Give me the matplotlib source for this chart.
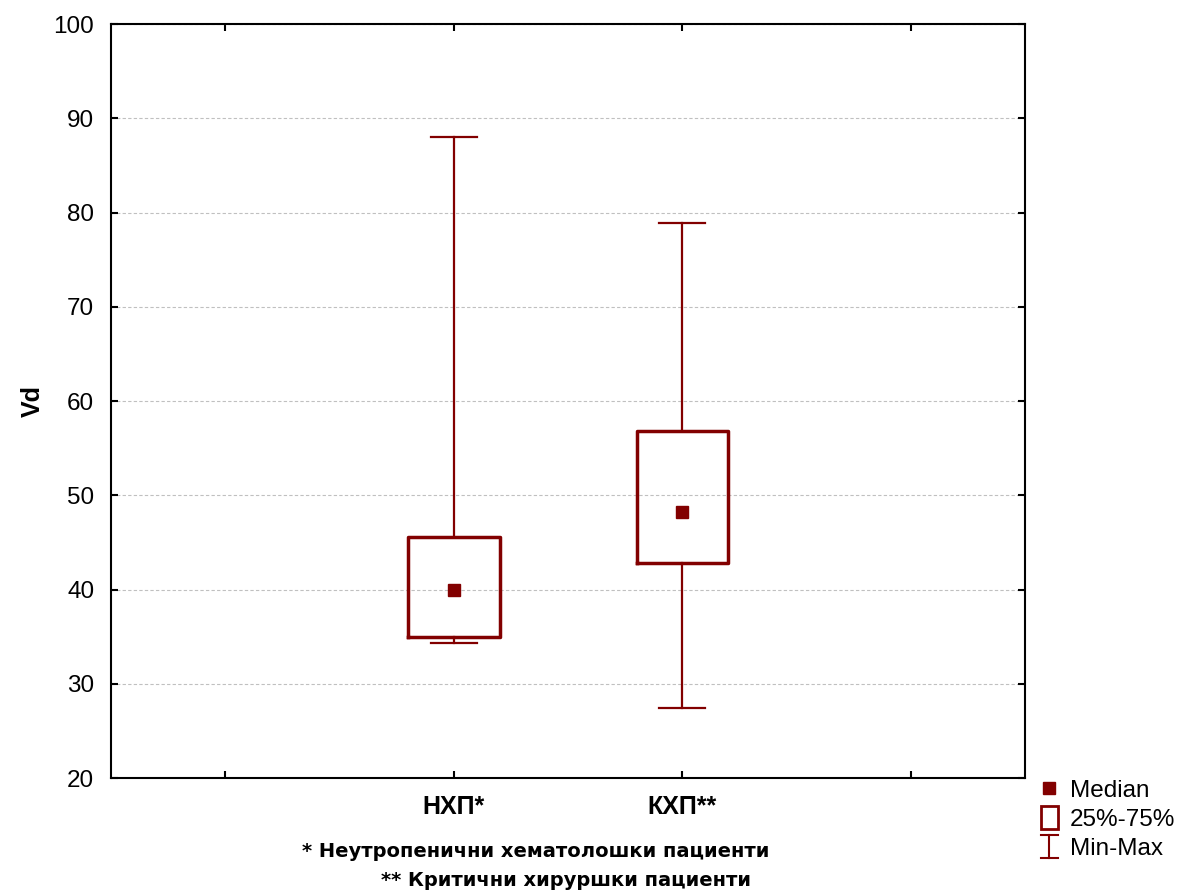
import matplotlib
matplotlib.use("Agg")
import matplotlib.pyplot as plt
from matplotlib.legend_handler import HandlerBase
from matplotlib.lines import Line2D
from matplotlib.patches import Rectangle

plt.rcParams["font.family"] = ["Liberation Sans", "DejaVu Sans"]

groups = ["НХП*", "КХП**"]
positions = [1, 2]
medians = [40.0, 48.2]
q1 = [35.0, 42.8]
q3 = [45.6, 56.8]
mins = [34.3, 27.4]
maxs = [88.0, 78.9]
color = "#820000"

fig = plt.figure(figsize=(11.81, 8.90), dpi=100)
ax = fig.add_axes([0.094, 0.1258, 0.774, 0.847])

stats = []
for i in range(len(groups)):
    stats.append({"med": medians[i], "q1": q1[i], "q3": q3[i],
                  "whislo": mins[i], "whishi": maxs[i], "fliers": []})

ax.bxp(stats, positions=positions, widths=0.4, capwidths=0.2, showfliers=False,
       boxprops=dict(color=color, linewidth=2.5),
       whiskerprops=dict(color=color, linewidth=1.6),
       capprops=dict(color=color, linewidth=1.6),
       medianprops=dict(linewidth=0))
ax.plot(positions, medians, "s", color=color, markersize=8, linestyle="none", zorder=5)

ax.set_xlim(-0.5, 3.5)
ax.set_ylim(20, 100)
ax.set_xticks([0, 1, 2, 3])
ax.set_xticklabels(["", groups[0], groups[1], ""], fontsize=18, fontweight="bold")
ax.set_yticks(range(20, 101, 10))
ax.tick_params(axis="y", labelsize=17.5)
ax.tick_params(direction="in", top=True, right=True, length=5, width=1.5, pad=12)
ax.yaxis.grid(True, linestyle=(0, (3, 2)), color="#c0c0c0", linewidth=0.8)
ax.set_axisbelow(True)
for s in ax.spines.values():
    s.set_linewidth(1.5)
ax.set_ylabel("Vd", fontsize=18, fontweight="bold", labelpad=6)


class WhiskerHandler(HandlerBase):
    def create_artists(self, legend, orig_handle, xdescent, ydescent, width, height, fontsize, trans):
        cx = width / 2 - xdescent
        lo, hi = -ydescent - 2, height - ydescent + 2
        arts = [Line2D([cx, cx], [lo, hi]),
                Line2D([cx - 6, cx + 6], [lo, lo]),
                Line2D([cx - 6, cx + 6], [hi, hi])]
        for a in arts:
            a.set_color(color)
            a.set_linewidth(1.5)
            a.set_transform(trans)
        return arts


class BoxHandler(HandlerBase):
    def create_artists(self, legend, orig_handle, xdescent, ydescent, width, height, fontsize, trans):
        cx = width / 2 - xdescent
        r = Rectangle((cx - 6, -ydescent - 2), 12, height + 4, facecolor="none",
                      edgecolor=color, linewidth=2, transform=trans)
        return [r]


med_handle = Line2D([], [], marker="s", color=color, linestyle="none", markersize=8)
box_handle = Rectangle((0, 0), 1, 1)
whisk_handle = Line2D([], [])
fig.legend([med_handle, box_handle, whisk_handle], ["Median", "25%-75%", "Min-Max"],
           handler_map={box_handle: BoxHandler(), whisk_handle: WhiskerHandler()},
           loc="upper left", bbox_to_anchor=(0.872, 0.135), frameon=False,
           fontsize=17.5, handlelength=0.8, handletextpad=0.45, labelspacing=0.3,
           borderaxespad=0)

fig.text(0.454, 0.037, "* Неутропенични хематолошки пациенти", ha="center",
         fontsize=14, fontweight="bold", family="DejaVu Sans")
fig.text(0.479, 0.004, "** Критични хируршки пациенти", ha="center",
         fontsize=14, fontweight="bold", family="DejaVu Sans")

fig.savefig("out.png", dpi=100)
